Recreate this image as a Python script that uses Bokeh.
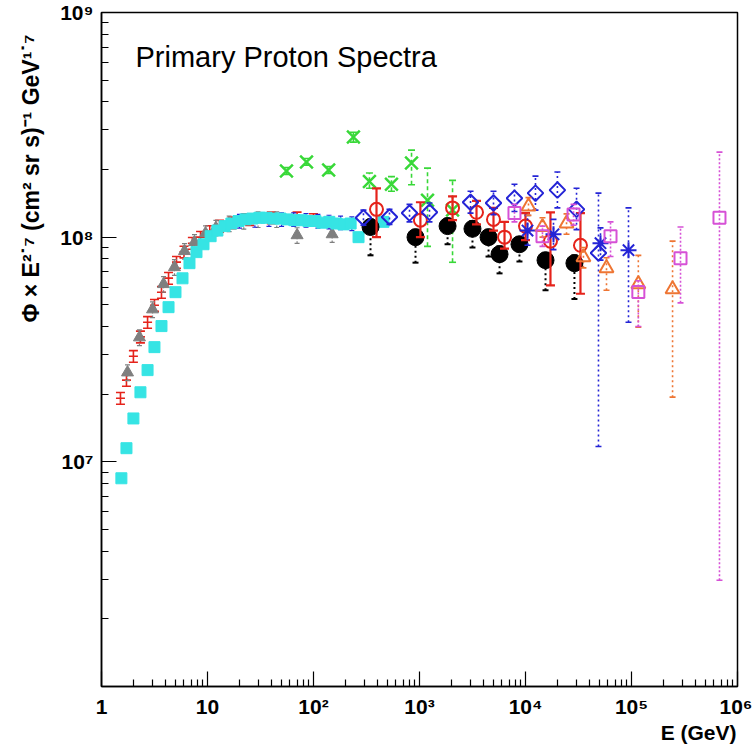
import numpy as np
from bokeh.plotting import figure
from bokeh.models import Range1d, FixedTicker, CustomJSTickFormatter, Label, Title
from bokeh.embed import file_html
from bokeh.resources import INLINE

# ---------------- data (E in GeV, flux x E^2.7) ----------------
cyan_E = [1.54, 1.72, 2.0, 2.33, 2.72, 3.16, 3.68, 4.29, 4.99, 5.81, 6.76, 7.87, 9.17, 10.7, 12.4,
          14.5, 16.8, 19.6, 22.8, 26.5, 30.9, 36.0, 41.9, 48.8, 56.8, 66.0, 77.0, 89.6, 104, 121,
          141, 165, 192, 224, 266, 457]
cyan_F = [8.45e6, 1.15e7, 1.56e7, 2.04e7, 2.56e7, 3.24e7, 4.02e7, 4.88e7, 5.69e7, 6.56e7, 7.66e7,
          8.58e7, 9.3e7, 1.01e8, 1.07e8, 1.12e8, 1.15e8, 1.18e8, 1.2e8, 1.21e8, 1.22e8, 1.22e8,
          1.21e8, 1.21e8, 1.2e8, 1.19e8, 1.19e8, 1.18e8, 1.18e8, 1.16e8, 1.17e8, 1.15e8, 1.14e8,
          1.15e8, 1.0e8, 1.17e8]

gray_E = [1.76, 2.28, 3.03, 3.85, 4.88, 6.07, 7.54, 9.58, 12.0, 16.0, 22.0, 30.0, 45.0, 70.0, 150.0]
gray_F = [2.5e7, 3.58e7, 4.77e7, 6.18e7, 7.35e7, 8.67e7, 9.5e7, 1.04e8, 1.1e8, 1.15e8, 1.18e8,
          1.2e8, 1.2e8, 1.02e8, 1.03e8]

redlow_E = [1.51, 1.72, 2.0, 2.33, 2.72, 3.16, 3.68, 4.29, 5.1, 6.0, 7.2, 8.6, 10.5, 13.0, 17.0,
            25.0, 40.0, 70.0, 100.0]
redlow_F = [1.92e7, 2.31e7, 2.95e7, 3.6e7, 4.18e7, 4.98e7, 5.69e7, 6.57e7, 7.74e7, 8.6e7, 9.4e7,
            1.0e8, 1.06e8, 1.12e8, 1.16e8, 1.2e8, 1.22e8, 1.22e8, 1.2e8]

bluelow_E = [20, 28, 38, 50, 65, 85, 110, 140, 180, 230]
bluelow_F = [1.18e8, 1.19e8, 1.2e8, 1.2e8, 1.2e8, 1.19e8, 1.18e8, 1.17e8, 1.16e8, 1.15e8]

green_E = [55.6, 85.9, 139, 238, 337, 544, 841, 1190, 2050]
green_F = [1.97e8, 2.16e8, 1.99e8, 2.79e8, 1.77e8, 1.72e8, 2.14e8, 1.46e8, 1.32e8]
green_lo = [1.90e8, 2.09e8, 1.92e8, 2.65e8, 1.65e8, 1.60e8, 1.71e8, 0.91e8, 0.773e8]
green_hi = [2.04e8, 2.24e8, 2.06e8, 2.93e8, 1.93e8, 1.86e8, 2.44e8, 2.03e8, 1.79e8]

black_E = [345, 917, 1840, 3160, 4480, 5690, 8770, 15450, 28950]
black_F = [1.11e8, 1.0e8, 1.12e8, 1.09e8, 1.0e8, 8.4e7, 9.3e7, 7.9e7, 7.66e7]
black_lo = [8.3e7, 7.7e7, 9.3e7, 9.0e7, 8.2e7, 6.9e7, 7.8e7, 5.8e7, 5.3e7]
black_hi = [1.2e8, 1.08e8, 1.21e8, 1.18e8, 1.08e8, 9.1e7, 1.0e8, 8.5e7, 8.3e7]

redc_E = [393, 1020, 2050, 3450, 4990, 6340, 10000, 17200, 33000]
redc_F = [1.33e8, 1.19e8, 1.35e8, 1.29e8, 1.2e8, 1.0e8, 1.12e8, 9.6e7, 9.2e7]
redc_hi = [1.65e8, 1.43e8, 1.52e8, 1.45e8, 1.35e8, 1.17e8, 1.28e8, 1.29e8, 1.28e8]
redc_lo = [1.0e8, 1.0e8, 1.19e8, 1.14e8, 1.07e8, 8.9e7, 9.7e7, 6.1e7, 5.6e7]

dia_E = [296, 521, 805, 1242, 3030, 4990, 7870, 12420, 20000, 30300, 48800]
dia_F = [1.22e8, 1.23e8, 1.28e8, 1.29e8, 1.43e8, 1.42e8, 1.49e8, 1.57e8, 1.62e8, 1.33e8, 8.5e7]
dia_hi = [1.32e8, 1.33e8, 1.4e8, 1.42e8, 1.6e8, 1.6e8, 1.72e8, 1.87e8, 1.95e8, 1.65e8, 1.57e8]
dia_lo = [1.13e8, 1.14e8, 1.17e8, 1.17e8, 1.28e8, 1.26e8, 1.30e8, 1.32e8, 1.35e8, 1.08e8, 1.17e7]

ast_E = [10450, 18370, 51000, 93700]
ast_F = [1.07e8, 1.03e8, 9.4e7, 8.75e7]
ast_hi = [1.25e8, 1.2e8, 1.1e8, 1.35e8]
ast_lo = [9.2e7, 8.8e7, 7.9e7, 4.18e7]

tri_E = [10670, 14460, 24380, 35200, 58100, 116000, 244000]
tri_F = [1.37e8, 1.11e8, 1.15e8, 8.15e7, 7.28e7, 6.18e7, 5.86e7]
tri_hi = [1.5e8, 1.22e8, 1.27e8, 9.0e7, 8.1e7, 8.3e7, 9.6e7]
tri_lo = [1.25e8, 1.0e8, 1.03e8, 7.3e7, 5.8e7, 3.97e7, 1.94e7]

sq_E = [7870, 14460, 28400, 63400, 116000, 290000, 676000]
sq_F = [1.28e8, 1.01e8, 1.26e8, 1.01e8, 5.7e7, 8.06e7, 1.22e8]
sq_hi = [1.40e8, 1.12e8, 1.4e8, 1.17e8, 6.4e7, 1.11e8, 2.39e8]
sq_lo = [1.17e8, 9.1e7, 1.13e8, 8.2e7, 4.0e7, 5.1e7, 2.97e6]

x_major = [1, 10, 1e2, 1e3, 1e4, 1e5, 1e6]
y_major = [1e7, 1e8, 1e9]

# ---------------- figure ----------------
FL, FR, FT, FB = 101, 15, 12, 62
p = figure(width=752, height=748, x_axis_type="log", y_axis_type="log",
           x_range=Range1d(1, 1e6), y_range=Range1d(1e6, 1e9),
           output_backend="svg", toolbar_location=None,
           min_border_left=FL, min_border_right=FR, min_border_top=FT, min_border_bottom=FB)
p.xgrid.visible = False
p.ygrid.visible = False
p.outline_line_color = "black"
p.outline_line_width = 1.5
p.background_fill_color = "white"
p.border_fill_color = "white"

def minors(lo_exp, hi_exp):
    return [m * 10.0 ** e for e in range(lo_exp, hi_exp) for m in range(2, 10)]

fmt_code = """
const sup = {"0":"\u2070","1":"\u00b9","2":"\u00b2","3":"\u00b3","4":"\u2074","5":"\u2075","6":"\u2076","7":"\u2077","8":"\u2078","9":"\u2079"};
const e = Math.round(Math.log10(tick));
if (e == 0) return "1";
if (e == 1) return "10";
return "10" + String(e).split("").map(c => sup[c]).join("");
"""
for ax, maj, mnr in ((p.xaxis[0], x_major, minors(0, 6)), (p.yaxis[0], y_major, minors(6, 9))):
    ax.ticker = FixedTicker(ticks=maj, minor_ticks=mnr)
    ax.formatter = CustomJSTickFormatter(code=fmt_code)
    ax.axis_line_width = 1.5
    ax.axis_line_color = "black"
    ax.major_tick_in = 15
    ax.major_tick_out = 0
    ax.minor_tick_in = 7
    ax.minor_tick_out = 0
    ax.major_tick_line_width = 1.2
    ax.minor_tick_line_width = 1.2
    ax.major_label_text_font = "Liberation Sans"
    ax.major_label_text_font_style = "bold"
    ax.major_label_text_font_size = "21px"
    ax.major_label_text_color = "black"
p.xaxis.major_label_standoff = 8
p.yaxis.major_label_standoff = 8

# axis titles as side-panel titles
p.add_layout(Title(text="E (GeV)", align="right", offset=1, standoff=-4,
                   text_font="Liberation Sans", text_font_style="bold",
                   text_font_size="21px", text_color="black"), "below")
p.add_layout(Title(text="\u03a6 \u00d7 E\u00b2\u02d9\u2077 (cm\u00b2 sr s)\u207b\u00b9 GeV\u00b9\u02d9\u2077",
                   align="right", offset=22, standoff=28,
                   text_font="Liberation Sans", text_font_style="bold",
                   text_font_size="23px", text_color="black"), "left")

# ---------------- helpers ----------------
def errbar(E, lo, hi, color, dash="solid", width=1.5, cap=7):
    p.segment(x0=E, y0=lo, x1=E, y1=hi, line_color=color, line_width=width, line_dash=dash)
    p.scatter(x=list(E) + list(E), y=list(lo) + list(hi), marker="dash", size=cap,
              line_color=color, line_width=width)

def frac(F, f):
    return [v * f for v in F]

RED = "#e5231b"
BLUE = "#2424d6"
GREEN = "#38d838"
ORANGE = "#ee7533"
MAGENTA = "#d651d6"
CYAN = "#36e4e4"
GRAY = "#7f7f7f"

# low-energy red points
errbar(redlow_E, frac(redlow_F, 0.94), frac(redlow_F, 1.06), RED, width=1.6, cap=9)
p.scatter(redlow_E, redlow_F, marker="dash", size=9, line_color=RED, line_width=1.6)

# gray triangles
errbar(gray_E, frac(gray_F, 0.92), frac(gray_F, 1.08), GRAY, dash="2 2", width=1.2, cap=5)
p.scatter(gray_E, gray_F, marker="triangle", size=12, fill_color=GRAY, line_color=GRAY)

# small blue plateau
errbar(bluelow_E, frac(bluelow_F, 0.93), frac(bluelow_F, 1.07), BLUE, dash="2 2", width=1.2, cap=5)

# cyan squares
p.scatter(cyan_E, cyan_F, marker="square", size=11, fill_color=CYAN, line_color=CYAN)

# green crosses
errbar(green_E, green_lo, green_hi, GREEN, dash="4 3", width=1.6, cap=7)
p.scatter(green_E, green_F, marker="x", size=18, line_color=GREEN, line_width=2.5)

# black circles
errbar(black_E, black_lo, black_hi, "black", dash="2 3", width=2, cap=6)
p.scatter(black_E, black_F, marker="circle", size=17, fill_color="black", line_color="black")

# red open circles
errbar(redc_E, redc_lo, redc_hi, RED, width=2.2, cap=9)
p.scatter(redc_E, redc_F, marker="circle", size=13, fill_color=None, line_color=RED, line_width=2)

# blue diamonds
errbar(dia_E, dia_lo, dia_hi, BLUE, dash="2 3", width=1.6, cap=6)
p.scatter(dia_E, dia_F, marker="square", angle=np.pi / 4, size=11, fill_color=None,
          line_color=BLUE, line_width=2)

# blue asterisks
errbar(ast_E, ast_lo, ast_hi, BLUE, dash="2 3", width=1.6, cap=6)
p.scatter(ast_E, ast_F, marker="asterisk", size=16, line_color=BLUE, line_width=2)

# orange triangles
errbar(tri_E, tri_lo, tri_hi, ORANGE, dash="2 3", width=1.6, cap=6)
p.scatter(tri_E, tri_F, marker="triangle", size=14, fill_color=None, line_color=ORANGE, line_width=2)

# magenta squares
errbar(sq_E, sq_lo, sq_hi, MAGENTA, dash="2 2", width=1.6, cap=6)
p.scatter(sq_E, sq_F, marker="square", size=12, fill_color=None, line_color=MAGENTA, line_width=2)

# ---------------- in-frame title ----------------
p.add_layout(Label(x=135 - FL, y=(748 - FB) - 56, x_units="screen", y_units="screen",
                   text="Primary Proton Spectra", text_font="Liberation Sans",
                   text_font_size="29px", text_color="black", text_baseline="alphabetic"))

open("out.html", "w").write(file_html(p, INLINE))
